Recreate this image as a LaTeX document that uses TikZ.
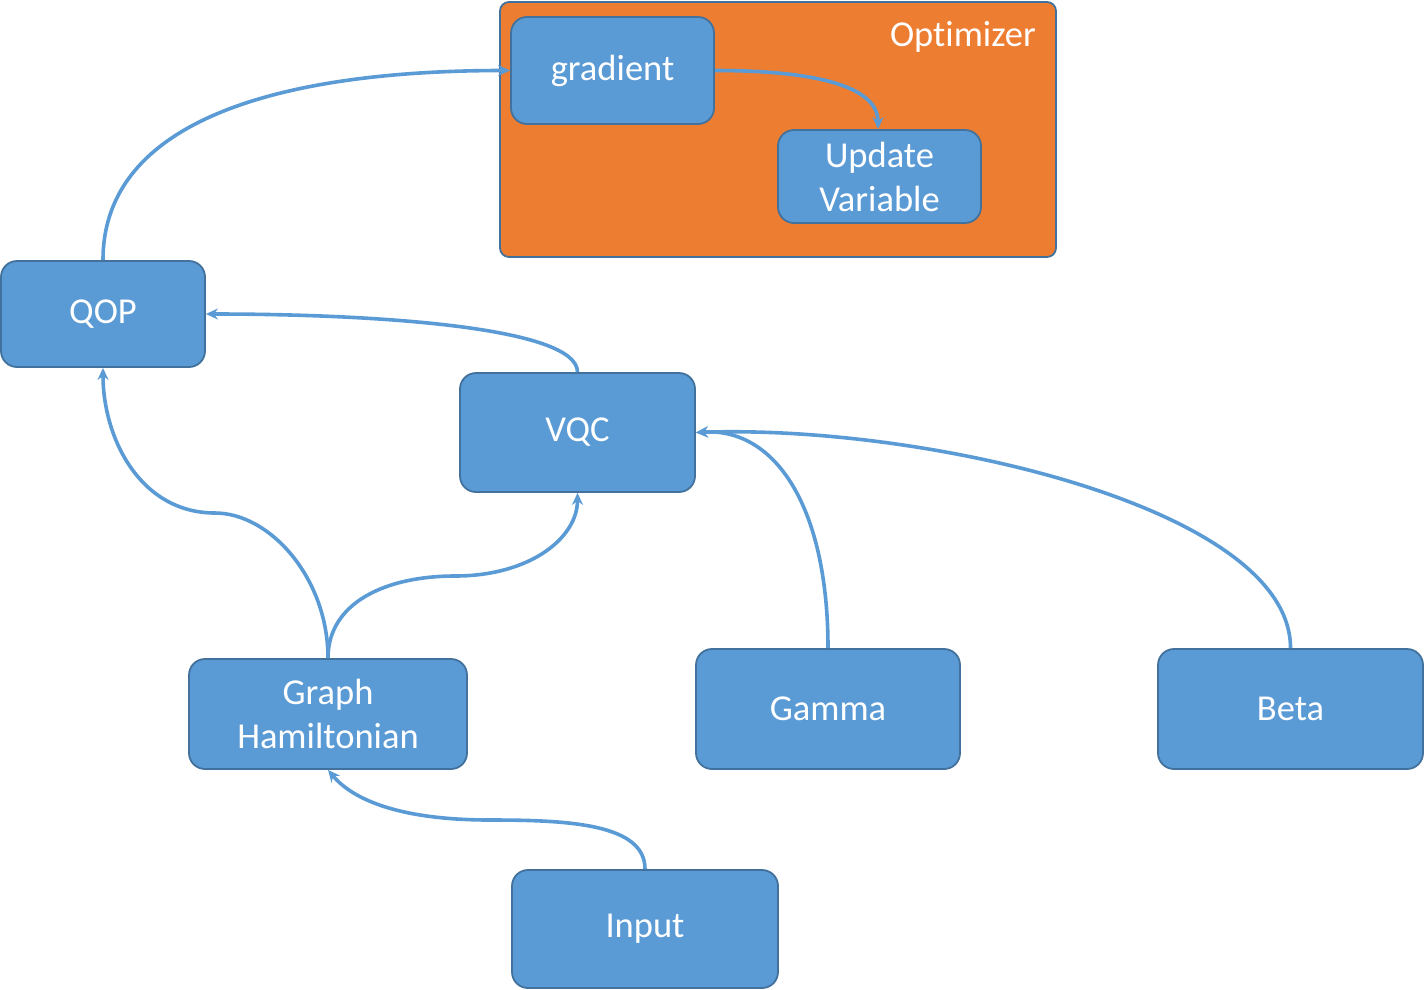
\documentclass[tikz,border=0pt]{standalone}
\usepackage{fontspec}
\setmainfont{Carlito}[RawFeature=-liga]
\usetikzlibrary{arrows.meta}
\definecolor{boxblue}{HTML}{5B9BD5}
\definecolor{boxedge}{HTML}{41719C}
\definecolor{optorange}{HTML}{ED7D31}
\tikzset{
  box/.style={draw=boxedge, line width=1.8pt, fill=boxblue, rounded corners=16pt,
    text=white, align=center, font=\fontsize{36.5}{44}\selectfont, inner sep=0pt},
  conn/.style={draw=boxblue, line width=3.6pt, -{Stealth[length=12pt,width=11pt]}},
}
\begin{document}
\begin{tikzpicture}[x=1pt,y=-1pt]
\useasboundingbox (0,0) rectangle (1424,989);
% optimizer container
\node[draw=boxedge, line width=1.8pt, fill=optorange, rounded corners=9pt,
  minimum width=556pt, minimum height=255pt, inner sep=0pt] (opt) at (778,129.5) {};
\node[text=white, font=\fontsize{36.5}{44}\selectfont, anchor=east, inner sep=0pt] (optlbl) at (1036,37) {Optimizer};
\node[box, minimum width=203pt, minimum height=107pt] (grad) at (612.5,70.5) {gradient};
\node[box, minimum width=203pt, minimum height=93pt] (upd) at (879.5,176.5) {Update\\Variable};
\node[box, minimum width=204pt, minimum height=106pt] (qop) at (103,314) {QOP};
\node[box, minimum width=235pt, minimum height=119pt] (vqc) at (577.5,432.5) {VQC};
\node[box, minimum width=278pt, minimum height=110pt] (gh) at (328,714) {Graph\\Hamiltonian};
\node[box, minimum width=264pt, minimum height=120pt] (gam) at (828,709) {Gamma};
\node[box, minimum width=265pt, minimum height=120pt] (beta) at (1290.5,709) {Beta};
\node[box, minimum width=266pt, minimum height=118pt] (inp) at (645,929) {Input};
% connectors
\draw[conn] (qop.north) .. controls +(0,-140) and +(-230,0) .. (grad.west);
\draw[conn] (grad.east) .. controls +(110,0) and +(0,-40) .. (upd.north -| 878,0);
\draw[conn] (vqc.north) .. controls +(0,-45) and +(170,0) .. (qop.east);
\draw[conn] (gh.north) .. controls +(0,-80) and +(55,0) .. (215,513) .. controls +(-75,0) and +(0,70) .. (qop.south);
\draw[conn] (gh.north) .. controls +(0,-55) and +(-70,0) .. (455,576) .. controls +(75,0) and +(0,45) .. (vqc.south);
\draw[conn] (gam.north) .. controls +(0,-140) and +(80,-5) .. (vqc.east);
\draw[conn] (beta.north) .. controls +(0,-140) and +(230,-8) .. (vqc.east);
\draw[conn] (inp.north) .. controls +(0,-45) and +(80,0) .. (490,820) .. controls +(-90,0) and +(25,30) .. (gh.south);
\end{tikzpicture}
\end{document}
